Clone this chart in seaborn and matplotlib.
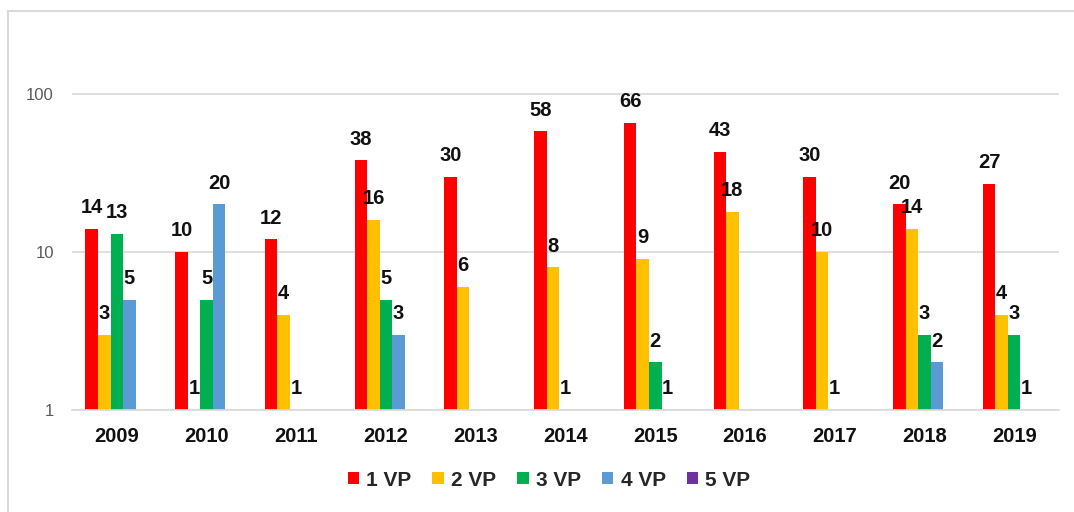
import numpy as np
import pandas as pd
import matplotlib
matplotlib.use("Agg")
import matplotlib.pyplot as plt
from matplotlib.lines import Line2D
from matplotlib.patches import Patch
import seaborn as sns

years = ["2009", "2010", "2011", "2012", "2013", "2014", "2015", "2016", "2017", "2018", "2019"]
series = ["1 VP", "2 VP", "3 VP", "4 VP", "5 VP"]
vp1 = [14, 10, 12, 38, 30, 58, 66, 43, 30, 20, 27]
vp2 = [3, 1, 4, 16, 6, 8, 9, 18, 10, 14, 4]
vp3 = [13, 5, 1, 5, np.nan, 1, 2, np.nan, 1, 3, 3]
vp4 = [5, 20, np.nan, 3, np.nan, np.nan, 1, np.nan, np.nan, 2, 1]
vp5 = [np.nan] * 11
colors = ["#FF0000", "#FFC000", "#00B050", "#5B9BD5", "#7030A0"]

rows = []
for s, vals in zip(series, [vp1, vp2, vp3, vp4, vp5]):
    for y, v in zip(years, vals):
        rows.append({"year": y, "series": s, "value": v})
df = pd.DataFrame(rows)

sns.set_theme(style="white")
plt.rcParams["font.family"] = ["Liberation Sans", "DejaVu Sans"]

fig = plt.figure(figsize=(10.74, 5.12), dpi=100)
ax = fig.add_axes([72 / 1074, 1 - 410 / 512, (1059 - 72) / 1074, 390 / 512])

sns.barplot(data=df, x="year", y="value", hue="series", order=years, hue_order=series,
            palette=colors, width=0.7, errorbar=None, saturation=1, ax=ax, legend=False,
            linewidth=0, edgecolor="none")

ax.set_yscale("log")
ax.set_ylim(1, 294)
ax.set_xlim(-0.5, len(years) - 0.5)
ax.set_yticks([1, 10, 100])
ax.set_yticklabels(["1", "10", "100"])
ax.minorticks_off()
ax.yaxis.grid(True, color="#D9D9D9", linewidth=1.2)
ax.set_axisbelow(True)
for sp in ["top", "right", "left"]:
    ax.spines[sp].set_visible(False)
ax.spines["bottom"].set_color("#D9D9D9")
ax.spines["bottom"].set_linewidth(1.2)
ax.set_xlabel("")
ax.set_ylabel("")
ax.tick_params(axis="y", length=0, pad=13, labelsize=12, labelcolor="#595959")
ax.tick_params(axis="x", length=0, pad=12, labelsize=14.5)
for t in ax.get_xticklabels():
    t.set_fontweight("bold")
    t.set_color("#111111")

for cont in ax.containers:
    for bar in cont:
        h = bar.get_height()
        if h is None or not np.isfinite(h) or h <= 0:
            continue
        ax.annotate(f"{int(round(h))}", xy=(bar.get_x() + bar.get_width() / 2, h),
                    xytext=(0, 8.5), textcoords="offset points", ha="center", va="bottom",
                    fontsize=14.5, fontweight="bold", color="#111111", clip_on=False)

handles = [Patch(facecolor=c, edgecolor="none") for c in colors]
fig.legend(handles, series, loc="center", bbox_to_anchor=(549 / 1074, 1 - 480 / 512), ncol=5,
           frameon=False, handlelength=0.55, handleheight=0.55, handletextpad=0.35,
           columnspacing=1.0, prop={"weight": "bold", "size": 15})

# chart area border
fig.add_artist(Line2D([8 / 1074, 8 / 1074], [0, 1 - 11 / 512], transform=fig.transFigure,
                      color="#D9D9D9", linewidth=1.5))
fig.add_artist(Line2D([8 / 1074, 1], [1 - 11 / 512, 1 - 11 / 512], transform=fig.transFigure,
                      color="#D9D9D9", linewidth=1.5))

fig.savefig("out.png", dpi=100)
